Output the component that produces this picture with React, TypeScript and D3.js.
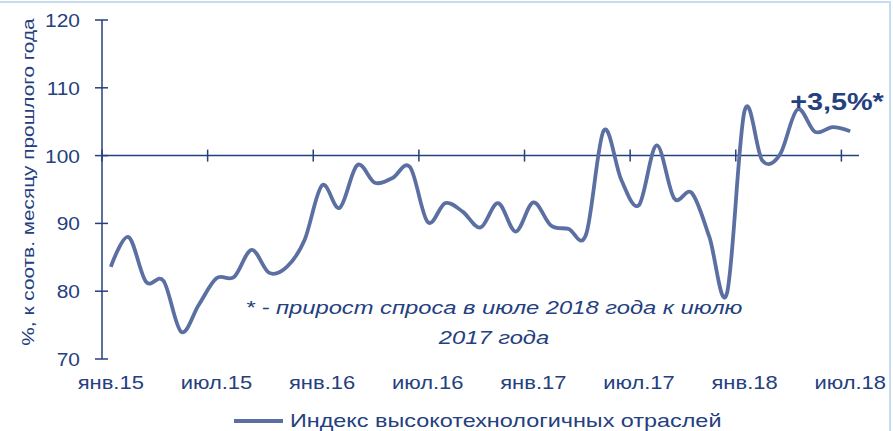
import * as d3 from "d3";

document.body.style.margin = "0";

const months = d3.range(43); // янв.15 .. июл.18
const values = [
  83.6, 88.0, 81.4, 81.5, 74.0, 78.0, 81.9, 82.1, 86.1, 82.7, 83.6, 87.5,
  95.6, 92.3, 98.6, 96.0, 96.7, 98.3, 90.2, 93.0, 91.7, 89.4, 93.0, 88.8,
  93.1, 89.7, 89.2, 88.4, 103.7, 96.4, 92.7, 101.5, 93.7, 94.5, 88.0, 79.7,
  106.6, 99.3, 100.1, 106.8, 103.5, 104.2, 103.6,
];
const xLabels = ["янв.15", "июл.15", "янв.16", "июл.16", "янв.17", "июл.17", "янв.18", "июл.18"];
const yTicks = [70, 80, 90, 100, 110, 120];

const W = 893;
const H = 431;
const ink = "#24407E";
const lineColor = "#5B6FA3";

// the source font renders wider than Liberation Sans, so stretch text horizontally
function Txt(props: { x: number; y: number; sx: number; rot?: number; children: any; [k: string]: any }) {
  const { x, y, sx, rot, children, ...rest } = props;
  return (
    <text transform={`translate(${x},${y}) rotate(${rot ?? 0}) scale(${sx},1)`} fill={ink} {...rest}>
      {children}
    </text>
  );
}

export default function App() {
  const x = d3.scaleLinear().domain([0, 43]).range([102, 859]);
  const y = d3.scaleLinear().domain([70, 120]).range([359, 20]);

  const line = d3
    .line<number>()
    .x((d, i) => x(months[i] + 0.5))
    .y((d) => y(d))
    .curve(d3.curveCardinal.tension(0));

  return (
    <svg width={W} height={H} style={{ display: "block", fontFamily: "Liberation Sans, Arial, sans-serif" }}>
      <rect x={-2} y={2} width={892} height={H + 4} fill="#fff" stroke="#C6DAF2" strokeWidth={2} />

      {/* y axis */}
      <line x1={x(0)} x2={x(0)} y1={y(120)} y2={y(70)} stroke={ink} strokeWidth={1.5} />
      {yTicks.map((t) => (
        <g key={t}>
          <line x1={x(0) - 7} x2={x(0) + 6} y1={y(t)} y2={y(t)} stroke={ink} strokeWidth={1.5} />
          <Txt x={x(0) - 22} y={y(t) + 7} sx={1.1} textAnchor="end" fontSize={19}>
            {t}
          </Txt>
        </g>
      ))}

      {/* category axis crossing at 100 */}
      <line x1={x(0)} x2={x(43)} y1={y(100)} y2={y(100)} stroke={ink} strokeWidth={1.5} />
      {xLabels.map((lab, k) => (
        <g key={lab}>
          <line x1={x(k * 6)} x2={x(k * 6)} y1={y(100) - 6} y2={y(100) + 6} stroke={ink} strokeWidth={1.5} />
          <Txt x={x(k * 6 + 0.5)} y={389} sx={1.22} textAnchor="middle" fontSize={18}>
            {lab}
          </Txt>
        </g>
      ))}

      <Txt x={34} y={182} sx={1.3} rot={-90} textAnchor="middle" fontSize={16}>
        %, к соотв. месяцу прошлого года
      </Txt>

      <path d={line(values) ?? ""} fill="none" stroke={lineColor} strokeWidth={3.8} />

      <Txt x={494} y={314} sx={1.25} textAnchor="middle" fontSize={19} fontStyle="italic">
        * - прирост спроса  в июле 2018 года к июлю
      </Txt>
      <Txt x={494} y={344} sx={1.25} textAnchor="middle" fontSize={19} fontStyle="italic">
        2017 года
      </Txt>

      <Txt x={837} y={110} sx={1.2} textAnchor="middle" fontSize={24} fontWeight="bold">
        +3,5%*
      </Txt>

      {/* legend */}
      <line x1={234} x2={283} y1={421} y2={421} stroke={lineColor} strokeWidth={3.8} />
      <Txt x={290} y={427} sx={1.3} fontSize={18}>
        Индекс высокотехнологичных отраслей
      </Txt>
    </svg>
  );
}
